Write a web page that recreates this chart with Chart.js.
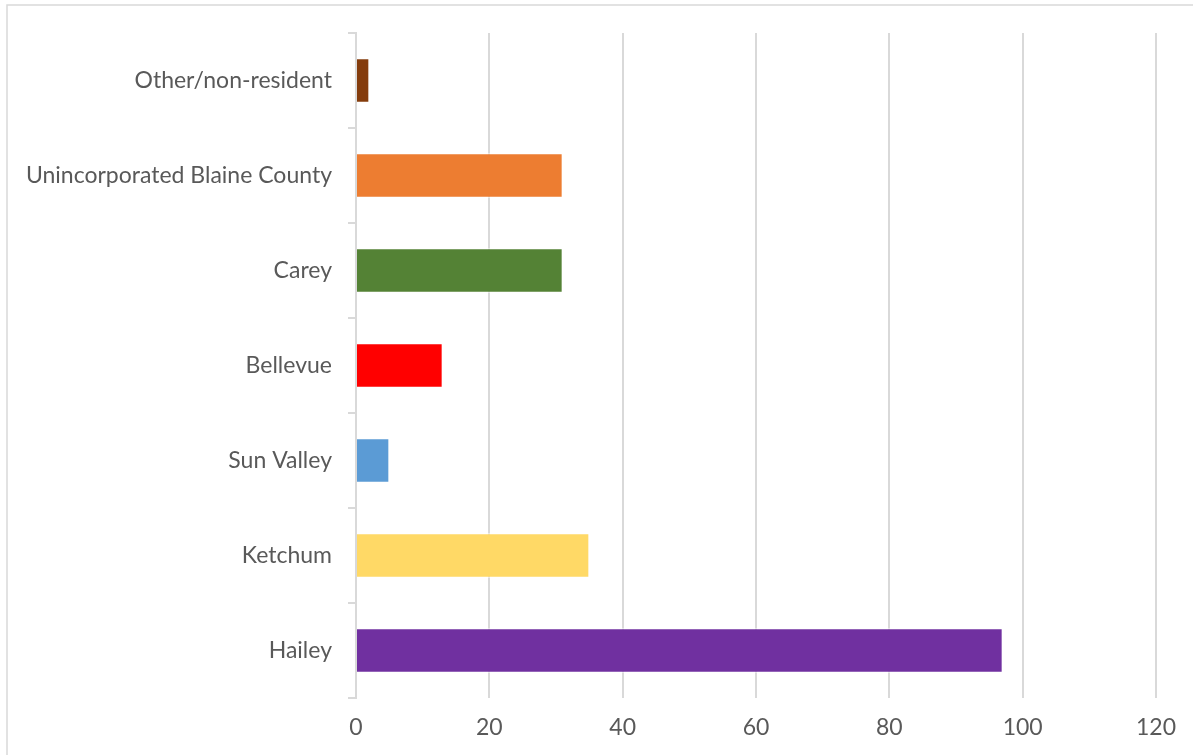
<!DOCTYPE html>
<html>
<head>
<meta charset="utf-8">
<script src="https://cdn.jsdelivr.net/npm/chart.js@4"></script>
<style>
  html, body { margin: 0; padding: 0; background: #fff; }
  #wrap { position: relative; width: 1193px; height: 755px; }
</style>
</head>
<body>
<div id="wrap"><canvas id="myChart" width="1193" height="755"></canvas></div>
<script>
// residents by place, listed top to bottom
var places = ['Other/non-resident', 'Unincorporated Blaine County', 'Carey', 'Bellevue', 'Sun Valley', 'Ketchum', 'Hailey'];
var counts = [2, 31, 31, 13, 5, 35, 97];
var barColors = ['#843C0C', '#ED7D31', '#548235', '#FF0000', '#5B9BD5', '#FFD966', '#7030A0'];
var xTicks = [0, 20, 40, 60, 80, 100, 120];

// light frame around the whole chart
var frame = {
  id: 'frame',
  beforeDraw: function (chart) {
    var ctx = chart.ctx;
    ctx.save();
    ctx.fillStyle = '#fff';
    ctx.fillRect(0, 0, chart.width, chart.height);
    ctx.strokeStyle = '#d9d9d9';
    ctx.lineWidth = 1.5;
    ctx.strokeRect(7, 5, chart.width + 20, chart.height + 20);
    ctx.restore();
  }
};

new Chart('myChart', {
  type: 'bar',
  data: {
    labels: places,
    datasets: [{
      data: counts,
      backgroundColor: barColors,
      borderColor: 'rgba(255,255,255,0.8)',
      borderWidth: 1,
      categoryPercentage: 1,
      barPercentage: 0.47
    }]
  },
  plugins: [frame],
  options: {
    indexAxis: 'y',
    responsive: false,
    animation: false,
    layout: { padding: { top: 33, right: 37, left: 0, bottom: 0 } },
    plugins: {
      legend: { display: false },
      tooltip: { enabled: false }
    },
    scales: {
      x: {
        min: 0,
        max: 120,
        afterBuildTicks: function (scale) {
          scale.ticks = xTicks.map(function (v) { return { value: v }; });
        },
        afterFit: function (scale) { scale.height = 57; },
        grid: { color: '#d9d9d9', lineWidth: 2, drawTicks: false },
        border: { display: false },
        ticks: {
          color: '#595959',
          font: { family: 'Lato', size: 23 },
          padding: 16
        }
      },
      y: {
        afterFit: function (scale) { scale.width = 356; },
        grid: { drawOnChartArea: false, color: '#d9d9d9', lineWidth: 2, tickLength: 8 },
        border: { display: true, color: '#d9d9d9', width: 2 },
        ticks: {
          color: '#595959',
          font: { family: 'Lato', size: 23 },
          padding: 16
        }
      }
    }
  }
});
</script>
</body>
</html>
